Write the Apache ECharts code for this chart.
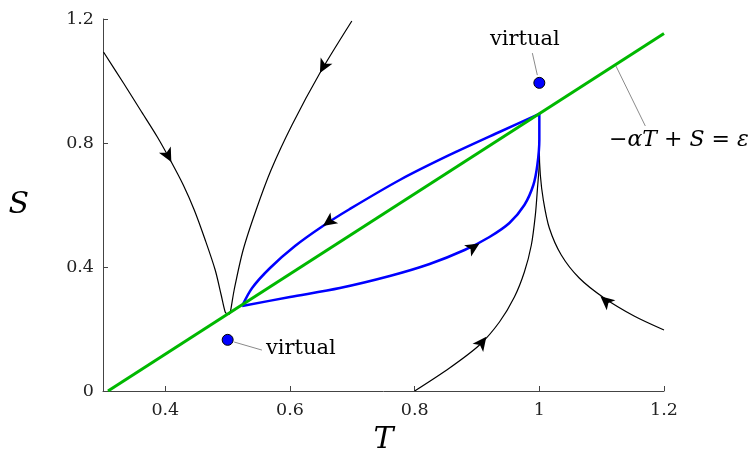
<!DOCTYPE html>
<html>
<head>
<meta charset="utf-8">
<script src="https://cdn.jsdelivr.net/npm/echarts@6/dist/echarts.min.js"></script>
<style>
  html, body { margin: 0; padding: 0; background: #fff; }
  #main { width: 753px; height: 457px; }
</style>
</head>
<body>
<div id="main"></div>
<script>
// axis ticks
var xTicks = [0.4, 0.6, 0.8, 1, 1.2]
var yTicks = [0, 0.4, 0.8, 1.2]

// switching line  -aT + S = eps
var switchLine = [[0.308, 0], [1.2, 1.153]]

// black trajectories (T, S)
var trajTopLeft = [[0.3008, 1.0935], [0.3328, 0.9935], [0.360, 0.9065], [0.3872, 0.8194], [0.4096, 0.7387],
  [0.4288, 0.6645], [0.4464, 0.5839], [0.464, 0.4871], [0.480, 0.3903], [0.4896, 0.3097], [0.496, 0.2548], [0.499, 0.248]]
var trajTop = [[0.6992, 1.1935], [0.648, 1.0258], [0.6032, 0.8581], [0.5696, 0.7129], [0.5456, 0.5839],
  [0.5248, 0.4548], [0.5104, 0.3258], [0.504, 0.2516], [0.502, 0.248]]
var trajBottom = [[0.8, 0], [0.856, 0.0742], [0.904, 0.1484], [0.936, 0.2226], [0.96, 0.3032], [0.976, 0.3839],
  [0.9872, 0.471], [0.9936, 0.5677], [0.9968, 0.6484], [1.0, 0.7452], [1.0, 0.8097]]
var trajRight = [[1.2, 0.1968], [1.152, 0.2419], [1.104, 0.3], [1.064, 0.3645], [1.0352, 0.4387], [1.016, 0.5258],
  [1.0064, 0.6161], [1.0016, 0.6968], [1.0, 0.7774], [1.0, 0.8097]]

// blue sliding orbit
var orbitUpper = [[1.0, 0.8935], [0.936, 0.8355], [0.856, 0.7613], [0.776, 0.6806], [0.696, 0.5871],
  [0.6528, 0.5323], [0.608, 0.4677], [0.568, 0.3968], [0.5392, 0.3323], [0.5232, 0.2742]]
var orbitLower = [[0.5232, 0.2742], [0.6, 0.3032], [0.68, 0.3323], [0.76, 0.371], [0.824, 0.4097], [0.88, 0.4548],
  [0.92, 0.4968], [0.952, 0.5419], [0.976, 0.6], [0.9904, 0.6645], [0.9968, 0.729], [1.0, 0.8097], [1.0, 0.8935]]

// arrowheads: position and a point further along the flow
var arrows = [
  [[0.4096, 0.7387], [0.4288, 0.6645]],
  [[0.648, 1.0258], [0.6032, 0.8581]],
  [[0.6528, 0.5323], [0.608, 0.4677]],
  [[0.904, 0.476], [0.936, 0.516]],
  [[0.915, 0.175], [0.948, 0.262]],
  [[1.098, 0.306], [1.064, 0.3645]]
]

// virtual equilibria
var virtualPts = [[1.0, 0.994], [0.5, 0.165]]
var leaders = [
  [[0.9968, 1.019], [0.9888, 1.090]],
  [[0.5104, 0.158], [0.555, 0.132]],
  [[1.123, 1.048], [1.170, 0.855]]
]

var chart = echarts.init(document.getElementById('main'))
var serif = 'DejaVu Serif'

function curve(data, color, width, z) {
  return {
    type: 'line', data: data, smooth: 0.3, showSymbol: false, symbol: 'none',
    lineStyle: { color: color, width: width }, z: z, silent: true
  }
}

var series = [
  curve(trajTopLeft, '#000', 1.2, 2),
  curve(trajTop, '#000', 1.2, 2),
  curve(trajBottom, '#000', 1.2, 2),
  curve(trajRight, '#000', 1.2, 2),
  curve(orbitUpper, '#0000ff', 2.5, 3),
  curve(orbitLower, '#0000ff', 2.5, 3),
  curve(switchLine, '#00b800', 3, 4)
]
leaders.forEach(function (l) {
  series.push({
    type: 'line', data: l, showSymbol: false, symbol: 'none',
    lineStyle: { color: '#8a8a8a', width: 1 }, z: 2, silent: true
  })
})
series.push({
  type: 'scatter', data: virtualPts, symbol: 'circle', symbolSize: 11,
  itemStyle: { color: '#0000ff', borderColor: '#000', borderWidth: 1, opacity: 1 }, z: 6
})
series.push({
  id: 'arrows', type: 'scatter', symbol: 'arrow', symbolSize: [10, 14],
  data: arrows.map(function (a) { return a[0] }),
  itemStyle: { color: '#000', opacity: 1 }, z: 7
})

var option = {
  animation: false,
  grid: { left: 103, right: 89, top: 19, bottom: 66, outerBoundsMode: 'none', containLabel: false },
  xAxis: {
    type: 'value', min: 0.3, max: 1.2,
    name: 'T', nameLocation: 'middle', nameGap: 34,
    nameTextStyle: { fontFamily: serif, fontStyle: 'italic', fontSize: 30, color: '#000' },
    axisLine: { lineStyle: { color: '#444', width: 1 } },
    axisTick: { inside: true, length: 5, customValues: xTicks, lineStyle: { color: '#444' } },
    axisLabel: { customValues: xTicks, fontFamily: serif, fontSize: 17.5, color: '#222', margin: 10 },
    splitLine: { show: false }
  },
  yAxis: {
    type: 'value', min: 0, max: 1.2, interval: 0.4,
    name: 'S', nameLocation: 'middle', nameGap: 74, nameRotate: 0,
    nameTextStyle: { fontFamily: serif, fontStyle: 'italic', fontSize: 30, color: '#000' },
    axisLine: { show: true, lineStyle: { color: '#444', width: 1 } },
    axisTick: { show: true, inside: true, length: 5, lineStyle: { color: '#444' } },
    axisLabel: { fontFamily: serif, fontSize: 17.5, color: '#222', margin: 9 },
    splitLine: { show: false }
  },
  graphic: [
    {
      type: 'text', left: 490, top: 29,
      style: { text: 'virtual', font: '21px "DejaVu Serif"', fill: '#000' }
    },
    {
      type: 'text', left: 266, top: 338,
      style: { text: 'virtual', font: '21px "DejaVu Serif"', fill: '#000' }
    },
    {
      type: 'text', left: 609, top: 129,
      style: {
        text: '{n|−}{i|αT}{n| + }{i|S}{n| = }{i|ε}',
        rich: {
          n: { fontFamily: serif, fontSize: 22, fill: '#000' },
          i: { fontFamily: serif, fontStyle: 'italic', fontSize: 22, fill: '#000' }
        }
      }
    }
  ],
  series: series
}

chart.setOption(option)

// orient each arrowhead along the curve in pixel space
var arrowData = arrows.map(function (a) {
  var p1 = chart.convertToPixel({ xAxisIndex: 0, yAxisIndex: 0 }, a[0])
  var p2 = chart.convertToPixel({ xAxisIndex: 0, yAxisIndex: 0 }, a[1])
  var ang = Math.atan2(-(p2[1] - p1[1]), p2[0] - p1[0]) * 180 / Math.PI - 90
  return { value: a[0], symbolRotate: ang }
})
chart.setOption({ series: [{ id: 'arrows', data: arrowData }] })
</script>
</body>
</html>
